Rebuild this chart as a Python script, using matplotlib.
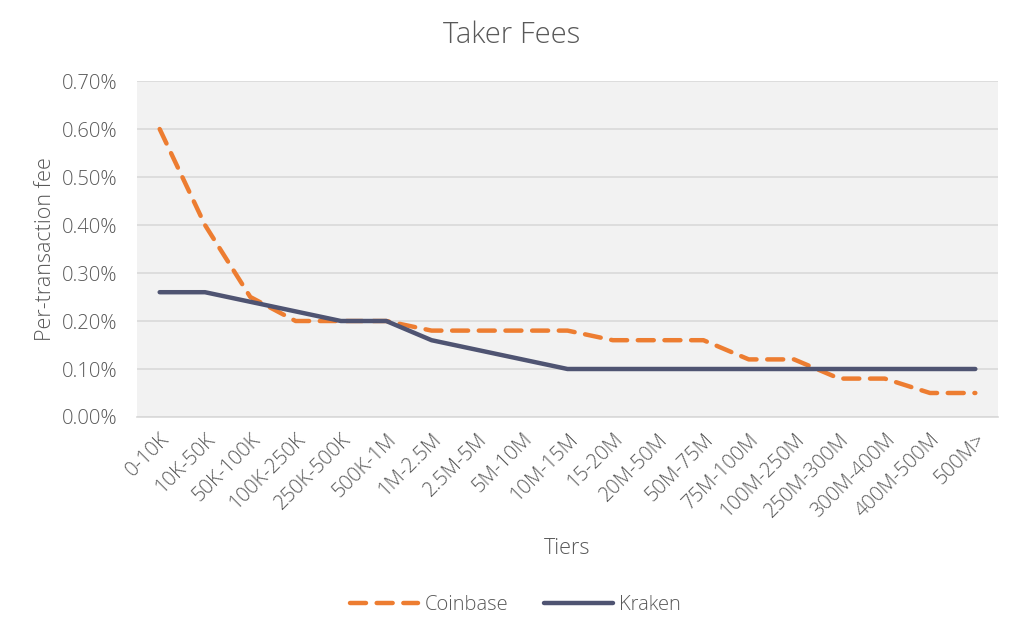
import matplotlib.pyplot as plt
from matplotlib.ticker import PercentFormatter

tiers = ["0-10K", "10K-50K", "50K-100K", "100K-250K", "250K-500K", "500K-1M",
         "1M-2.5M", "2.5M-5M", "5M-10M", "10M-15M", "15-20M", "20M-50M",
         "50M-75M", "75M-100M", "100M-250M", "250M-300M", "300M-400M",
         "400M-500M", "500M>"]
coinbase = [0.60, 0.40, 0.25, 0.20, 0.20, 0.20, 0.18, 0.18, 0.18, 0.18,
            0.16, 0.16, 0.16, 0.12, 0.12, 0.08, 0.08, 0.05, 0.05]
kraken = [0.26, 0.26, 0.24, 0.22, 0.20, 0.20, 0.16, 0.14, 0.12, 0.10,
          0.10, 0.10, 0.10, 0.10, 0.10, 0.10, 0.10, 0.10, 0.10]

plt.rcParams['font.family'] = ['Open Sans', 'DejaVu Sans']
plt.rcParams['font.weight'] = 'light'
plt.rcParams['axes.labelweight'] = 'light'
gray = "#595959"

fig = plt.figure(figsize=(10.24, 6.38), dpi=100)
ax = fig.add_axes([0.1338, 0.3464, 0.8408, 0.5266])
ax.set_facecolor("#F2F2F2")

x = range(len(tiers))
ax.plot(x, coinbase, color="#ED7D31", lw=3.2, ls=(0, (3.6, 2.4)),
        dash_capstyle="round", solid_joinstyle="round", label="Coinbase", zorder=3)
ax.plot(x, kraken, color="#4F5472", lw=3.2, solid_capstyle="round",
        solid_joinstyle="round", label="Kraken", zorder=3)

ax.set_xlim(-0.5, len(tiers) - 0.5)
ax.set_ylim(0, 0.70)
ax.set_yticks([i / 100 for i in range(0, 71, 10)])
ax.yaxis.set_major_formatter(PercentFormatter(decimals=2))
ax.grid(axis="y", color="#D9D9D9", lw=1.2)
ax.set_axisbelow(True)
for s in ["top", "right", "left"]:
    ax.spines[s].set_visible(False)
ax.spines["bottom"].set_color("#D9D9D9")
ax.spines["bottom"].set_linewidth(1.2)

ax.set_xticks(list(x))
ax.set_xticklabels(tiers, rotation=45, ha="right", rotation_mode="anchor")
ax.tick_params(axis="both", length=0, labelsize=14.5, labelcolor=gray)
ax.tick_params(axis="x", pad=9)
ax.tick_params(axis="y", pad=14)

fig.text(0.5, 0.945, "Taker Fees", fontsize=21, color=gray, ha="center", va="center")
ax.set_xlabel("Tiers", fontsize=15.5, color=gray, labelpad=12)
ax.set_ylabel("Per-transaction fee", fontsize=15.5, color=gray, labelpad=4)

leg = fig.legend(loc="center", bbox_to_anchor=(0.503, 0.052), ncol=2,
                 frameon=False, fontsize=14.5, handlelength=3.4,
                 columnspacing=1.8, handletextpad=0.3)
for t in leg.get_texts():
    t.set_color(gray)

fig.savefig("out.png", dpi=100)
